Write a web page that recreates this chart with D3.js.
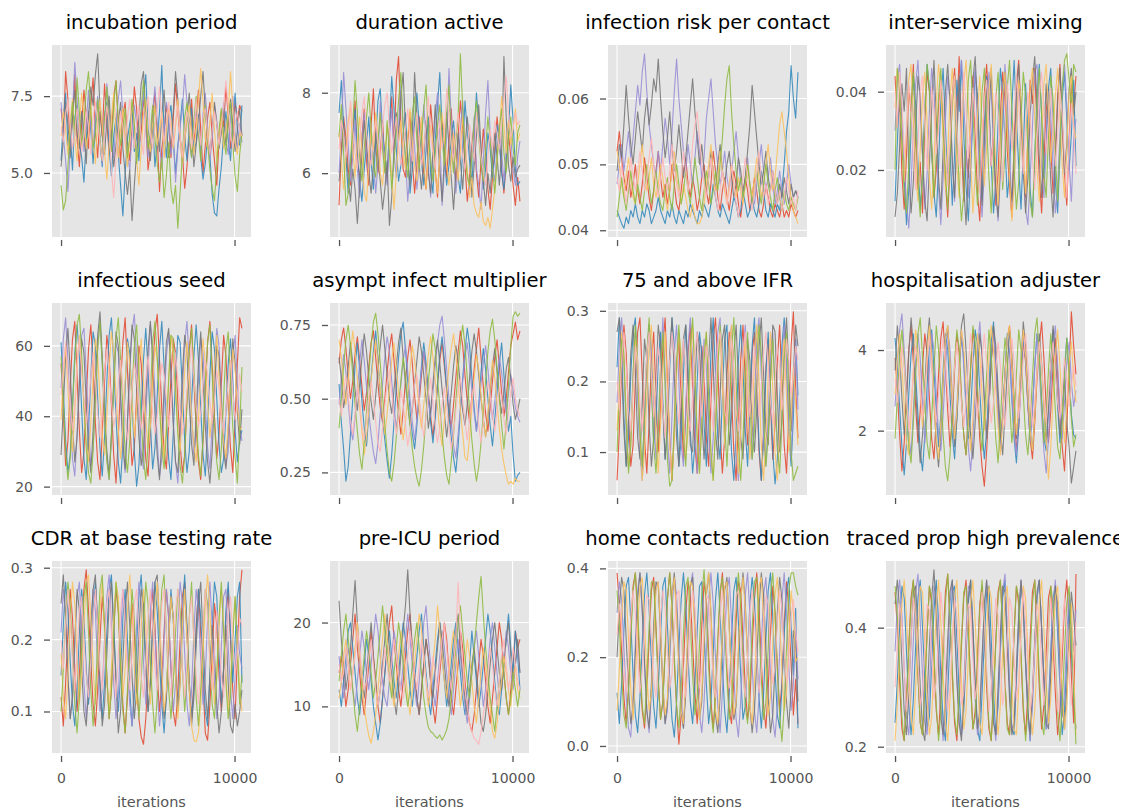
<!DOCTYPE html>
<html>
<head>
<meta charset="utf-8">
<script src="https://cdn.jsdelivr.net/npm/d3@7"></script>
<style>
  html, body { margin: 0; padding: 0; background: #ffffff; }
  svg { display: block; font-family: "DejaVu Sans", "Noto Sans", sans-serif; }
</style>
</head>
<body>
<svg id="chart" width="1131" height="812"></svg>
<script>
// MCMC trace plots: 7 chains per calibrated parameter, thinned samples.
const chainColors = ["#E24A33", "#348ABD", "#988ED5", "#777777", "#FBC15E", "#8EBA42", "#FFB5B8"];
const thin = 132; // iterations between stored samples
const xTickValues = [0, 10000];
const xTickLabels = ["0", "10000"];
const xLabel = "iterations";

const panelTitles = [
  "incubation period", "duration active", "infection risk per contact", "inter-service mixing",
  "infectious seed", "asympt infect multiplier", "75 and above IFR", "hospitalisation adjuster",
  "CDR at base testing rate", "pre-ICU period", "home contacts reduction", "traced prop high prevalence"
];

const yTickValues = [
  [5.0, 7.5], [6, 8], [0.04, 0.05, 0.06], [0.02, 0.04],
  [20, 40, 60], [0.25, 0.5, 0.75], [0.1, 0.2, 0.3], [2, 4],
  [0.1, 0.2, 0.3], [10, 20], [0.0, 0.2, 0.4], [0.2, 0.4]
];
const yTickLabels = [
  ["5.0", "7.5"], ["6", "8"], ["0.04", "0.05", "0.06"], ["0.02", "0.04"],
  ["20", "40", "60"], ["0.25", "0.50", "0.75"], ["0.1", "0.2", "0.3"], ["2", "4"],
  ["0.1", "0.2", "0.3"], ["10", "20"], ["0.0", "0.2", "0.4"], ["0.2", "0.4"]
];

// chain order: red, blue, purple, gray, yellow, green, pink
const incubationPeriod = [
  [7.1,6.3,8.3,7.4,5.9,6.8,8.2,6.1,5.2,6.6, 7.7,6.9,5.8,7.2,8.1,6.4,5.5,7.0,6.2,7.9, 6.7,5.6,6.1,7.5,8.0,6.6,5.3,6.9,7.3,6.0, 5.4,6.5,7.8,7.1,5.9,6.3,7.4,6.8,5.1,5.7, 6.9,7.6,6.2,4.4,5.8,6.4,7.2,6.6,5.5,6.8, 7.9,7.0,6.1,5.6,4.5,5.2,6.3,7.4,6.0,6.7, 7.7,6.4,5.0,5.9,6.8,7.3,6.2,5.4,4.6,6.1, 7.0,6.5,7.8,6.9,5.8,6.4,7.3,6.7,7.2,7.0],
  [5.4,6.7,7.6,5.9,6.3,5.1,6.8,7.2,6.0,5.5, 4.7,6.1,7.0,6.4,5.3,6.6,7.4,6.0,5.2,6.9, 7.3,5.8,4.9,6.2,6.8,5.6,4.6,3.6,5.0,6.1, 6.6,7.1,5.7,6.3,5.4,6.9,7.5,8.2,6.4,5.8, 6.7,5.2,6.0,7.0,8.5,6.3,5.5,6.8,7.2,6.1, 5.0,5.9,6.6,7.4,6.2,5.4,6.5,7.1,5.7,6.0, 6.9,5.5,4.8,5.3,6.2,5.6,4.3,3.7,3.6,4.5, 5.2,6.3,7.0,6.1,5.4,6.7,7.6,6.4,5.9,7.2],
  [7.3,6.2,5.4,4.4,5.8,6.9,8.6,7.4,6.3,7.0, 5.7,6.6,7.7,6.5,5.9,6.8,7.5,6.1,5.3,6.4, 7.9,7.1,6.0,5.5,6.7,7.4,8.0,6.9,6.2,5.6, 5.1,6.3,7.2,6.6,5.8,6.9,7.6,6.4,5.5,6.1, 7.0,7.8,6.7,5.9,5.2,6.4,7.3,6.8,5.6,6.2, 4.7,5.8,6.5,7.1,8.2,7.3,6.0,5.5,6.6,7.0, 6.3,5.7,6.9,7.6,6.5,5.4,6.1,7.2,6.7,5.9, 6.4,7.3,6.1,5.6,6.8,7.5,6.3,5.8,6.6,6.0],
  [5.2,6.1,7.3,6.6,5.5,6.8,7.7,6.3,5.8,7.0, 6.4,5.3,6.9,7.8,7.2,8.2,8.88,7.1,6.2,5.6, 6.7,7.5,6.1,5.2,5.9,6.6,7.3,5.8,5.0,4.3, 5.1,3.45,4.6,5.7,6.8,7.9,8.3,6.9,6.0,5.4, 6.5,7.2,6.3,5.7,6.9,7.7,6.4,5.5,6.1,7.0, 8.3,7.4,6.2,5.3,6.0,6.8,7.6,6.5,5.2,5.9, 6.6,7.5,8.3,7.0,6.1,5.6,6.4,7.3,6.6,5.8, 6.3,7.1,5.9,6.7,7.4,6.5,5.7,6.4,7.1,6.2],
  [6.2,7.0,6.4,5.6,6.6,7.4,6.1,5.4,6.5,7.6, 6.9,5.8,6.3,7.2,6.0,5.3,6.7,7.4,6.5,5.7, 4.8,5.9,6.8,7.6,6.3,5.5,6.4,7.1,6.0,5.2, 6.1,7.3,6.6,5.4,4.6,5.8,6.9,7.4,6.2,5.7, 6.6,7.2,5.9,6.4,7.0,5.5,6.3,7.1,6.7,5.8, 6.5,7.4,6.1,5.3,6.0,6.8,7.2,6.3,5.6,6.5, 7.4,8.4,7.3,6.1,5.8,6.7,7.6,6.4,5.4,6.2, 6.9,5.8,6.4,7.0,8.3,7.1,6.0,5.6,6.3,6.1],
  [4.6,3.8,4.1,5.2,6.4,7.3,6.2,8.1,7.0,5.9, 6.6,7.7,8.3,7.0,5.8,6.3,7.4,6.1,5.4,6.8, 7.8,6.5,5.7,7.2,8.0,6.7,5.9,6.4,7.1,5.5, 6.2,7.4,6.6,5.3,6.0,7.1,8.0,6.9,5.8,6.3, 7.2,6.1,5.3,4.7,5.5,4.2,4.9,6.0,4.5,4.0, 4.6,3.2,4.4,5.6,6.8,7.3,6.2,5.5,6.7,7.5, 6.3,5.4,6.6,7.2,6.0,5.1,4.5,4.1,5.3,6.4, 7.1,6.2,5.6,6.8,7.3,6.0,4.9,4.4,5.6,6.3],
  [6.5,6.0,6.9,7.4,6.6,5.8,6.3,7.1,6.4,5.7, 6.2,7.0,6.5,5.6,6.8,7.3,6.7,6.0,5.4,6.4, 7.2,6.6,5.1,4.2,5.5,6.3,7.0,6.5,5.9,6.8, 7.4,6.4,5.8,6.6,7.2,6.1,5.6,6.9,7.5,6.3, 5.8,6.5,7.1,7.8,6.7,6.0,6.6,7.3,6.4,5.9, 6.7,7.2,6.2,5.5,6.4,7.0,6.6,5.8,6.3,7.4, 6.5,5.9,6.8,7.1,6.2,5.6,6.4,7.0,6.6,5.9, 6.5,7.2,8.0,7.1,6.3,5.8,6.6,7.0,6.4,6.2]
];

const durationActive = [
  [5.2,6.6,7.4,6.9,6.1,5.7,7.0,7.8,6.4,5.8, 6.9,7.6,6.3,5.7,7.2,8.1,6.7,6.0,6.5,7.3, 6.2,5.8,7.1,7.9,6.6,8.3,8.9,7.2,6.1,5.9, 6.8,7.5,6.3,5.5,6.2,7.4,6.9,6.0,5.6,6.7, 7.7,7.0,6.1,5.4,6.5,7.3,6.6,5.9,6.8,7.6, 6.4,5.8,6.9,7.8,7.1,6.2,5.3,5.9,6.7,7.2, 6.0,5.4,6.3,7.1,6.5,5.6,5.1,5.9,6.6,7.4, 6.8,6.1,5.5,6.3,7.0,6.4,5.7,5.2,5.9,5.3],
  [7.5,8.3,7.2,6.4,5.5,6.2,6.9,7.6,6.5,5.8, 5.3,6.1,6.7,7.4,6.3,5.6,6.8,7.8,8.1,7.0, 6.5,5.9,7.1,8.4,7.6,6.6,5.8,6.2,7.0,7.5, 6.4,5.5,6.1,7.3,8.0,7.2,6.3,5.7,6.6,7.4, 6.0,5.5,6.8,7.7,8.5,7.1,6.4,5.7,6.2,6.9, 7.3,6.5,5.9,5.5,6.6,7.8,7.0,6.3,5.7,6.8, 8.0,7.2,6.4,5.6,6.1,7.0,6.6,5.9,6.4,7.2, 6.8,6.0,5.6,6.3,7.0,8.2,7.3,6.1,5.7,5.8],
  [6.0,7.1,8.5,7.6,6.7,5.8,6.4,7.3,6.1,5.4, 6.8,7.5,6.6,5.9,7.0,6.4,5.5,6.2,7.8,7.0, 6.1,5.7,6.9,7.6,6.5,5.9,7.2,8.2,7.1,6.4, 5.3,6.0,7.3,6.7,5.6,6.3,6.8,7.7,6.9,6.2, 5.4,6.5,7.4,8.0,7.0,5.2,6.1,6.9,8.6,7.3, 6.4,5.5,6.2,7.1,7.8,6.7,6.0,5.6,6.5,7.4, 6.1,5.7,5.1,6.3,7.5,8.3,7.0,6.2,5.8,6.6, 7.2,6.5,5.8,6.6,7.3,6.9,6.1,5.7,6.4,6.8],
  [5.8,6.4,7.2,6.6,5.9,5.3,6.1,5.6,4.75,5.7, 6.5,7.3,6.8,6.0,5.5,6.2,7.0,6.4,5.8,5.1, 5.6,6.3,4.7,5.4,6.6,7.5,6.8,7.9,8.5,7.1, 6.3,5.7,6.9,8.5,7.4,6.2,5.6,6.4,7.3,6.0, 5.5,6.6,7.7,6.9,6.1,5.3,6.4,7.5,6.7,5.9, 5.1,6.0,7.0,6.3,5.6,6.6,7.4,6.8,5.4,6.2, 6.9,7.7,6.6,5.8,5.2,6.0,5.5,6.3,7.0,6.4, 5.7,6.5,8.9,7.4,6.2,5.8,6.4,5.9,6.1,6.2],
  [7.0,6.3,5.6,6.4,7.3,7.7,6.6,5.9,6.8,7.4, 6.5,5.5,5.3,6.2,7.1,6.6,7.5,6.9,6.0,5.7, 6.4,7.2,6.7,5.9,5.1,6.0,6.8,7.3,6.5,6.1, 6.9,7.6,6.8,6.2,5.8,6.6,7.4,6.3,5.6,6.5, 7.2,6.7,6.0,5.5,6.4,7.5,6.9,6.2,5.7,6.3, 7.0,6.4,5.8,6.6,7.4,6.8,6.1,5.4,5.9,5.2, 5.0,4.9,5.3,4.8,4.7,4.9,4.63,5.1,5.6,6.4, 7.0,7.9,7.2,6.5,7.3,6.7,7.1,7.6,6.8,7.0],
  [6.9,7.7,6.5,5.2,5.5,6.3,7.2,8.3,7.5,6.4, 5.8,6.6,7.4,8.0,7.1,6.2,5.9,6.8,7.5,6.6, 6.0,7.3,6.5,5.6,6.3,7.0,7.8,8.5,7.2,6.4, 5.9,6.7,7.5,7.9,6.8,6.1,6.9,7.6,8.2,7.0, 6.3,5.8,6.5,7.2,7.7,6.9,6.2,7.5,8.2,6.7, 6.0,6.8,7.4,8.97,7.6,6.5,5.9,5.7,6.4,7.3, 7.8,6.9,6.2,5.8,6.6,7.4,6.8,6.1,5.5,6.3, 7.1,7.6,6.5,6.0,6.9,7.4,6.6,6.2,7.0,7.2],
  [6.6,7.3,7.0,6.4,6.9,7.8,7.1,6.5,6.1,6.8, 7.5,7.9,7.0,6.4,6.2,6.9,7.3,6.8,6.3,7.2, 7.7,8.0,7.1,6.5,6.9,7.4,6.7,6.2,6.6,7.1, 7.6,6.9,6.3,7.0,7.5,6.8,6.2,6.6,7.2,7.9, 6.9,6.5,6.1,6.8,7.3,6.6,7.0,8.1,7.4,6.7, 6.3,7.0,7.5,6.9,6.4,6.1,6.7,7.2,6.8,6.3, 7.5,6.9,6.4,6.0,5.7,6.4,7.1,6.6,7.3,7.0, 6.6,7.2,7.8,8.4,7.5,6.9,7.1,7.5,7.2,7.3]
];

const infectionRiskPerContact = [
  [0.052,0.055,0.051,0.048,0.046,0.049,0.045,0.047,0.050,0.046, 0.044,0.047,0.051,0.048,0.045,0.043,0.046,0.049,0.052,0.048, 0.045,0.047,0.044,0.046,0.050,0.047,0.044,0.043,0.046,0.049, 0.051,0.047,0.045,0.048,0.046,0.043,0.045,0.048,0.050,0.046, 0.044,0.047,0.052,0.049,0.045,0.043,0.046,0.048,0.045,0.043, 0.046,0.049,0.047,0.044,0.042,0.045,0.048,0.046,0.043,0.045, 0.048,0.046,0.043,0.042,0.044,0.047,0.045,0.043,0.042,0.044, 0.043,0.042,0.044,0.042,0.043,0.042,0.044,0.043,0.042,0.043],
  [0.043,0.042,0.041,0.0403,0.042,0.041,0.043,0.042,0.044,0.042, 0.041,0.043,0.042,0.044,0.043,0.041,0.042,0.043,0.045,0.043, 0.042,0.041,0.043,0.042,0.044,0.042,0.041,0.043,0.042,0.041, 0.043,0.042,0.044,0.043,0.042,0.041,0.043,0.042,0.044,0.043, 0.042,0.044,0.047,0.045,0.043,0.042,0.044,0.043,0.042,0.041, 0.043,0.045,0.044,0.042,0.043,0.046,0.044,0.042,0.043,0.045, 0.043,0.042,0.044,0.049,0.046,0.043,0.042,0.044,0.043,0.042, 0.044,0.043,0.046,0.050,0.055,0.058,0.065,0.060,0.057,0.064],
  [0.047,0.050,0.053,0.049,0.052,0.055,0.051,0.054,0.058,0.062, 0.059,0.064,0.0668,0.061,0.056,0.053,0.050,0.048,0.052,0.049, 0.053,0.057,0.054,0.050,0.055,0.061,0.066,0.060,0.056,0.052, 0.049,0.053,0.050,0.047,0.051,0.055,0.052,0.048,0.051,0.057, 0.060,0.063,0.058,0.053,0.050,0.047,0.049,0.052,0.048,0.046, 0.049,0.052,0.055,0.051,0.047,0.045,0.048,0.051,0.047,0.045, 0.044,0.047,0.050,0.053,0.049,0.046,0.048,0.051,0.047,0.044, 0.046,0.049,0.046,0.044,0.047,0.050,0.047,0.045,0.046,0.045],
  [0.049,0.053,0.051,0.056,0.062,0.057,0.053,0.050,0.054,0.058, 0.055,0.052,0.057,0.060,0.056,0.059,0.063,0.061,0.066,0.060, 0.055,0.051,0.054,0.058,0.053,0.049,0.052,0.056,0.052,0.048, 0.051,0.055,0.059,0.063,0.058,0.054,0.050,0.053,0.049,0.046, 0.048,0.052,0.049,0.046,0.050,0.053,0.049,0.047,0.050,0.052, 0.048,0.045,0.047,0.051,0.049,0.046,0.048,0.052,0.056,0.062, 0.058,0.054,0.050,0.047,0.049,0.052,0.048,0.046,0.049,0.046, 0.044,0.047,0.045,0.048,0.046,0.044,0.047,0.045,0.046,0.045],
  [0.052,0.050,0.047,0.045,0.048,0.051,0.048,0.045,0.044,0.047, 0.050,0.053,0.049,0.046,0.048,0.051,0.047,0.045,0.047,0.050, 0.048,0.045,0.043,0.046,0.049,0.052,0.048,0.046,0.044,0.047, 0.045,0.043,0.042,0.044,0.042,0.041,0.041,0.042,0.044,0.047, 0.050,0.053,0.049,0.046,0.048,0.052,0.049,0.046,0.044,0.047, 0.050,0.047,0.045,0.048,0.046,0.044,0.047,0.050,0.047,0.045, 0.048,0.051,0.048,0.045,0.047,0.050,0.053,0.049,0.046,0.048, 0.052,0.056,0.058,0.055,0.052,0.048,0.045,0.043,0.042,0.041],
  [0.042,0.045,0.048,0.045,0.043,0.046,0.049,0.046,0.044,0.047, 0.045,0.043,0.046,0.050,0.047,0.044,0.046,0.049,0.046,0.044, 0.043,0.046,0.048,0.045,0.043,0.047,0.050,0.047,0.044,0.046, 0.049,0.046,0.044,0.047,0.051,0.048,0.045,0.043,0.046,0.049, 0.047,0.044,0.046,0.049,0.046,0.050,0.054,0.059,0.063,0.065, 0.058,0.053,0.049,0.046,0.048,0.045,0.047,0.050,0.047,0.044, 0.046,0.049,0.046,0.044,0.047,0.050,0.047,0.045,0.043,0.046, 0.048,0.045,0.043,0.046,0.044,0.043,0.045,0.044,0.043,0.045],
  [0.048,0.046,0.050,0.047,0.044,0.047,0.051,0.048,0.046,0.049, 0.052,0.049,0.046,0.048,0.051,0.054,0.050,0.047,0.045,0.048, 0.051,0.048,0.046,0.049,0.053,0.050,0.047,0.045,0.048,0.052, 0.049,0.046,0.048,0.053,0.056,0.058,0.054,0.050,0.047,0.045, 0.048,0.051,0.048,0.045,0.043,0.046,0.049,0.047,0.044,0.046, 0.050,0.047,0.044,0.042,0.045,0.048,0.051,0.048,0.045,0.043, 0.046,0.049,0.052,0.048,0.045,0.047,0.044,0.046,0.049,0.046, 0.044,0.046,0.043,0.045,0.048,0.046,0.044,0.045,0.043,0.046]
];

const interServiceMixing = [
  [0.044,0.031,0.038,0.019,0.010,0.024,0.041,0.035,0.047,0.028, 0.015,0.022,0.009,0.033,0.045,0.040,0.026,0.013,0.020,0.036, 0.043,0.030,0.017,0.008,0.021,0.039,0.046,0.034,0.049,0.027, 0.012,0.025,0.018,0.032,0.044,0.029,0.014,0.007,0.023,0.040, 0.047,0.036,0.021,0.030,0.011,0.019,0.034,0.045,0.038,0.025, 0.016,0.008,0.027,0.042,0.048,0.033,0.020,0.013,0.028,0.043, 0.037,0.046,0.031,0.018,0.009,0.022,0.035,0.041,0.026,0.014, 0.024,0.039,0.047,0.032,0.019,0.011,0.026,0.042,0.036,0.044],
  [0.012,0.027,0.040,0.033,0.018,0.006,0.015,0.030,0.044,0.037, 0.022,0.010,0.019,0.036,0.047,0.041,0.025,0.014,0.008,0.021, 0.038,0.046,0.031,0.017,0.026,0.011,0.024,0.043,0.035,0.048, 0.029,0.016,0.007,0.020,0.034,0.045,0.039,0.023,0.012,0.031, 0.044,0.037,0.022,0.009,0.017,0.032,0.046,0.040,0.027,0.013, 0.019,0.036,0.048,0.033,0.021,0.010,0.025,0.042,0.030,0.015, 0.008,0.023,0.039,0.047,0.034,0.018,0.028,0.041,0.046,0.031, 0.017,0.009,0.024,0.038,0.045,0.033,0.020,0.029,0.043,0.021],
  [0.030,0.043,0.047,0.034,0.021,0.012,0.0051,0.016,0.031,0.042, 0.048,0.036,0.024,0.010,0.019,0.035,0.046,0.040,0.027,0.015, 0.006,0.018,0.033,0.044,0.038,0.023,0.012,0.029,0.042,0.048, 0.037,0.025,0.013,0.021,0.036,0.046,0.031,0.017,0.008,0.020, 0.034,0.045,0.040,0.026,0.014,0.007,0.019,0.032,0.047,0.038, 0.024,0.011,0.017,0.030,0.043,0.036,0.022,0.010,0.006,0.018, 0.031,0.045,0.047,0.035,0.021,0.013,0.026,0.040,0.034,0.020, 0.009,0.016,0.029,0.041,0.047,0.036,0.022,0.012,0.028,0.033],
  [0.008,0.014,0.026,0.042,0.035,0.046,0.020,0.009,0.017,0.031, 0.044,0.039,0.024,0.012,0.007,0.021,0.036,0.048,0.033,0.018, 0.010,0.025,0.040,0.047,0.037,0.022,0.013,0.028,0.044,0.030, 0.016,0.006,0.019,0.034,0.043,0.049,0.036,0.023,0.011,0.027, 0.041,0.033,0.046,0.029,0.015,0.008,0.022,0.038,0.045,0.032, 0.019,0.012,0.024,0.039,0.047,0.035,0.021,0.009,0.018,0.034, 0.043,0.049,0.037,0.023,0.013,0.028,0.042,0.031,0.017,0.008, 0.022,0.037,0.046,0.033,0.019,0.027,0.041,0.046,0.034,0.040],
  [0.036,0.046,0.040,0.027,0.017,0.030,0.043,0.047,0.033,0.020, 0.012,0.025,0.039,0.045,0.032,0.018,0.010,0.022,0.037,0.047, 0.041,0.028,0.015,0.024,0.038,0.046,0.035,0.021,0.013,0.027, 0.042,0.048,0.036,0.023,0.009,0.019,0.034,0.044,0.030,0.016, 0.026,0.040,0.047,0.034,0.021,0.011,0.025,0.039,0.045,0.031, 0.018,0.007,0.016,0.030,0.043,0.038,0.024,0.014,0.029,0.041, 0.046,0.033,0.020,0.012,0.027,0.042,0.047,0.035,0.022,0.030, 0.039,0.046,0.034,0.021,0.013,0.025,0.040,0.044,0.031,0.028],
  [0.020,0.046,0.040,0.027,0.014,0.009,0.021,0.036,0.045,0.032, 0.017,0.008,0.019,0.034,0.047,0.041,0.026,0.013,0.024,0.039, 0.046,0.033,0.019,0.010,0.023,0.037,0.044,0.030,0.016,0.007, 0.014,0.029,0.043,0.048,0.035,0.021,0.011,0.025,0.040,0.046, 0.032,0.018,0.009,0.022,0.038,0.045,0.031,0.015,0.024,0.041, 0.048,0.036,0.020,0.010,0.017,0.033,0.045,0.039,0.025,0.012, 0.008,0.023,0.037,0.046,0.034,0.019,0.013,0.029,0.044,0.038, 0.024,0.012,0.026,0.041,0.048,0.0497,0.043,0.036,0.047,0.045],
  [0.040,0.031,0.045,0.037,0.024,0.030,0.042,0.036,0.023,0.015, 0.027,0.040,0.044,0.032,0.020,0.029,0.041,0.035,0.024,0.031, 0.043,0.037,0.026,0.016,0.028,0.039,0.044,0.031,0.021,0.034, 0.045,0.036,0.023,0.030,0.041,0.033,0.022,0.014,0.027,0.038, 0.043,0.032,0.021,0.029,0.040,0.035,0.024,0.017,0.030,0.042, 0.036,0.025,0.033,0.044,0.038,0.027,0.019,0.031,0.040,0.034, 0.023,0.015,0.028,0.039,0.045,0.035,0.024,0.032,0.041,0.030, 0.021,0.029,0.040,0.034,0.023,0.013,0.026,0.037,0.031,0.019]
];

const infectiousSeed = [
  [55,41,26,33,48,62,67,51,36,24, 30,45,59,66,54,38,27,22,35,50, 63,57,43,29,21,34,49,61,68,53, 39,26,31,46,60,55,41,28,23,36, 52,64,69,56,42,30,25,38,51,62, 58,44,32,24,29,45,59,66,50,37, 27,22,33,47,61,67,54,40,28,35, 49,63,57,43,31,24,39,55,68,65],
  [61,47,33,24,29,43,58,66,57,42, 28,22,36,51,64,60,45,31,23,34, 50,63,68,55,40,27,21,32,48,62, 58,44,30,20.1,26,41,56,65,53,38, 25,31,46,59,67,54,39,28,22,35, 51,63,61,47,33,24,30,44,57,66, 56,42,29,23,37,52,64,59,45,32, 24,28,41,55,62,50,36,27,33,36],
  [48,62,68,56,41,28,23,35,50,63, 65,52,38,26,31,45,60,67,55,40, 29,22,34,48,61,58,44,31,24,37, 53,64,69,57,42,30,25,39,54,66, 60,46,33,23,28,43,57,64,52,38, 27,21,32,47,61,67,55,41,29,36, 50,62,58,44,31,25,38,53,65,60, 46,34,26,30,44,57,63,49,37,33],
  [29,43,57,65,53,38,27,34,49,62, 58,44,31,24,36,51,63,69.7,57,42, 30,23,35,50,64,60,46,33,25,39, 54,66,62,48,34,26,31,45,59,67, 56,41,29,22,33,48,61,65,52,38, 27,24,37,52,63,58,44,32,26,40, 55,64,51,37,27,21,30,46,60,57, 43,30,25,36,50,62,55,41,32,42],
  [39,52,60,48,36,30,41,55,63,54, 43,33,27,38,51,62,57,45,35,29, 40,53,64,58,46,36,28,37,50,61, 55,44,34,42,54,62,50,39,31,37, 49,60,56,45,35,28,38,51,63,57, 46,36,30,41,53,61,52,40,32,27, 39,52,62,55,44,34,41,54,63,51, 42,33,28,38,50,59,53,43,36,37],
  [57,44,30,22,28,42,56,66,69,58, 43,31,24,21,30,45,59,67,55,40, 27,22,34,48,62,68,56,42,30,24, 33,47,60,66,53,39,28,22,32,46, 61,67,57,43,31,25,35,50,63,62, 48,35,26,21,29,44,58,65,54,40, 29,23,34,49,61,66,52,38,27,22, 31,45,59,64,50,37,28,21,36,54],
  [46,54,61,52,43,36,44,55,62,53, 45,38,43,51,58,50,41,34,42,53, 59,52,44,37,41,49,56,48,40,33, 39,48,55,51,43,36,42,50,57,49, 41,35,40,48,55,52,44,37,43,51, 58,50,42,35,39,47,54,60,51,43, 37,41,49,56,52,44,38,45,53,48, 40,35,42,50,56,47,39,44,52,47]
];

const asymptInfectMultiplier = [
  [0.62,0.70,0.74,0.67,0.58,0.50,0.56,0.65,0.71,0.63, 0.54,0.46,0.52,0.61,0.69,0.73,0.64,0.55,0.47,0.42, 0.50,0.59,0.67,0.72,0.63,0.53,0.45,0.38,0.46,0.56, 0.64,0.70,0.62,0.51,0.43,0.49,0.58,0.66,0.60,0.52, 0.44,0.37,0.45,0.55,0.63,0.69,0.61,0.53,0.46,0.40, 0.48,0.57,0.66,0.73,0.68,0.58,0.49,0.42,0.51,0.60, 0.67,0.74,0.64,0.54,0.45,0.39,0.47,0.56,0.64,0.70, 0.61,0.52,0.44,0.50,0.59,0.68,0.72,0.76,0.70,0.73],
  [0.55,0.42,0.33,0.22,0.27,0.38,0.50,0.61,0.69,0.60, 0.49,0.40,0.34,0.45,0.57,0.66,0.73,0.63,0.52,0.43, 0.36,0.29,0.23,0.31,0.42,0.54,0.64,0.72,0.76,0.67, 0.56,0.46,0.38,0.33,0.41,0.52,0.61,0.69,0.62,0.51, 0.42,0.35,0.43,0.55,0.65,0.71,0.63,0.53,0.44,0.37, 0.30,0.25,0.34,0.46,0.57,0.66,0.74,0.68,0.57,0.47, 0.39,0.48,0.59,0.67,0.60,0.50,0.41,0.34,0.43,0.52, 0.62,0.69,0.58,0.47,0.39,0.44,0.31,0.22,0.24,0.25],
  [0.48,0.57,0.65,0.59,0.49,0.40,0.36,0.44,0.53,0.62, 0.70,0.63,0.54,0.45,0.38,0.32,0.28,0.35,0.45,0.55, 0.64,0.71,0.66,0.56,0.47,0.40,0.46,0.55,0.63,0.68, 0.59,0.50,0.42,0.36,0.43,0.52,0.60,0.66,0.58,0.49, 0.44,0.52,0.61,0.69,0.75,0.78,0.70,0.60,0.50,0.42, 0.34,0.30,0.38,0.47,0.56,0.64,0.69,0.61,0.53,0.45, 0.39,0.46,0.55,0.62,0.68,0.60,0.51,0.43,0.49,0.57, 0.64,0.59,0.51,0.45,0.52,0.58,0.53,0.47,0.44,0.42],
  [0.64,0.57,0.47,0.52,0.61,0.69,0.62,0.53,0.46,0.55, 0.64,0.72,0.66,0.57,0.49,0.43,0.51,0.60,0.68,0.75, 0.67,0.58,0.50,0.45,0.53,0.61,0.69,0.74,0.64,0.55, 0.48,0.41,0.46,0.55,0.63,0.71,0.66,0.58,0.50,0.40, 0.46,0.55,0.64,0.70,0.62,0.53,0.45,0.37,0.44,0.52, 0.61,0.68,0.63,0.54,0.46,0.41,0.48,0.57,0.66,0.72, 0.66,0.58,0.50,0.43,0.37,0.44,0.53,0.61,0.67,0.59, 0.51,0.45,0.52,0.60,0.64,0.57,0.48,0.43,0.46,0.50],
  [0.70,0.64,0.55,0.48,0.56,0.65,0.73,0.66,0.57,0.47, 0.39,0.31,0.37,0.46,0.56,0.64,0.70,0.62,0.53,0.44, 0.38,0.45,0.54,0.63,0.69,0.61,0.52,0.43,0.36,0.42, 0.51,0.60,0.68,0.63,0.55,0.46,0.40,0.48,0.57,0.65, 0.71,0.64,0.56,0.47,0.39,0.34,0.43,0.52,0.61,0.67, 0.72,0.65,0.56,0.46,0.38,0.30,0.29,0.37,0.47,0.57, 0.65,0.60,0.51,0.43,0.37,0.45,0.54,0.63,0.57,0.48, 0.40,0.33,0.28,0.24,0.21,0.22,0.21,0.23,0.22,0.22],
  [0.40,0.50,0.61,0.70,0.75,0.68,0.58,0.48,0.39,0.31, 0.26,0.35,0.46,0.58,0.68,0.76,0.79,0.72,0.62,0.51, 0.41,0.32,0.25,0.22,0.28,0.37,0.47,0.56,0.64,0.58, 0.49,0.41,0.33,0.27,0.23,0.203,0.26,0.34,0.45,0.56, 0.64,0.72,0.67,0.57,0.47,0.38,0.30,0.24,0.21,0.29, 0.38,0.49,0.60,0.69,0.75,0.68,0.57,0.46,0.36,0.28, 0.22,0.27,0.35,0.45,0.56,0.66,0.73,0.77,0.70,0.60, 0.50,0.41,0.33,0.42,0.55,0.68,0.78,0.795,0.78,0.79],
  [0.50,0.44,0.52,0.58,0.51,0.43,0.38,0.45,0.54,0.49, 0.41,0.36,0.43,0.51,0.56,0.50,0.42,0.35,0.32,0.40, 0.48,0.55,0.60,0.52,0.44,0.38,0.45,0.53,0.48,0.41, 0.34,0.39,0.47,0.55,0.58,0.50,0.43,0.37,0.44,0.52, 0.57,0.49,0.41,0.35,0.40,0.48,0.54,0.47,0.40,0.33, 0.38,0.46,0.53,0.57,0.49,0.42,0.36,0.43,0.50,0.55, 0.48,0.41,0.35,0.42,0.50,0.56,0.51,0.44,0.39,0.46, 0.54,0.50,0.43,0.38,0.45,0.52,0.57,0.50,0.46,0.44]
];

const ifr75Plus = [
  [0.06,0.13,0.22,0.28,0.24,0.15,0.08,0.11,0.20,0.27, 0.29,0.21,0.12,0.07,0.14,0.23,0.27,0.18,0.10,0.16, 0.25,0.29,0.20,0.12,0.06,0.13,0.22,0.26,0.17,0.09, 0.15,0.24,0.28,0.19,0.11,0.07,0.16,0.25,0.21,0.12, 0.08,0.17,0.26,0.29,0.22,0.13,0.07,0.12,0.21,0.27, 0.18,0.10,0.06,0.14,0.23,0.28,0.20,0.11,0.15,0.24, 0.27,0.19,0.10,0.06,0.13,0.22,0.26,0.17,0.09,0.14, 0.23,0.28,0.20,0.11,0.07,0.15,0.25,0.2987,0.19,0.12],
  [0.22,0.29,0.24,0.15,0.08,0.12,0.21,0.27,0.29,0.19, 0.10,0.07,0.15,0.24,0.28,0.20,0.11,0.14,0.23,0.27, 0.17,0.09,0.13,0.22,0.29,0.25,0.16,0.08,0.12,0.21, 0.28,0.22,0.13,0.07,0.11,0.20,0.27,0.24,0.14,0.08, 0.15,0.24,0.29,0.21,0.12,0.09,0.18,0.26,0.28,0.18, 0.10,0.06,0.13,0.23,0.28,0.22,0.13,0.08,0.16,0.25, 0.29,0.20,0.11,0.06,0.12,0.21,0.27,0.19,0.10,0.055, 0.09,0.17,0.25,0.29,0.22,0.13,0.08,0.15,0.26,0.18],
  [0.17,0.25,0.29,0.22,0.13,0.08,0.12,0.21,0.27,0.19, 0.10,0.06,0.14,0.23,0.28,0.25,0.16,0.09,0.13,0.22, 0.29,0.21,0.12,0.07,0.15,0.24,0.28,0.20,0.11,0.08, 0.16,0.25,0.29,0.23,0.14,0.07,0.10,0.19,0.26,0.22, 0.13,0.07,0.12,0.21,0.27,0.29,0.20,0.11,0.16,0.25, 0.28,0.19,0.10,0.06,0.14,0.24,0.28,0.21,0.12,0.09, 0.17,0.26,0.29,0.21,0.12,0.08,0.15,0.24,0.27,0.18, 0.10,0.14,0.23,0.28,0.22,0.13,0.09,0.18,0.26,0.16],
  [0.27,0.29,0.22,0.13,0.08,0.15,0.24,0.28,0.21,0.12, 0.09,0.17,0.26,0.23,0.14,0.08,0.12,0.20,0.28,0.25, 0.16,0.09,0.14,0.24,0.29,0.21,0.12,0.08,0.17,0.26, 0.28,0.20,0.11,0.10,0.19,0.27,0.25,0.15,0.09,0.14, 0.23,0.29,0.22,0.13,0.09,0.18,0.26,0.28,0.19,0.11, 0.15,0.24,0.28,0.20,0.12,0.09,0.17,0.26,0.23,0.14, 0.10,0.16,0.25,0.29,0.21,0.13,0.11,0.20,0.28,0.27, 0.18,0.10,0.15,0.24,0.29,0.22,0.13,0.21,0.28,0.25],
  [0.13,0.20,0.27,0.23,0.15,0.08,0.11,0.19,0.26,0.21, 0.12,0.06,0.10,0.18,0.25,0.28,0.20,0.12,0.07,0.14, 0.22,0.27,0.19,0.11,0.06,0.12,0.21,0.27,0.24,0.15, 0.09,0.13,0.22,0.28,0.21,0.12,0.07,0.15,0.24,0.27, 0.18,0.10,0.06,0.14,0.22,0.27,0.19,0.11,0.16,0.25, 0.28,0.21,0.12,0.07,0.13,0.22,0.26,0.17,0.09,0.14, 0.23,0.28,0.20,0.11,0.06,0.12,0.21,0.27,0.19,0.10, 0.06,0.13,0.22,0.26,0.18,0.10,0.15,0.22,0.17,0.11],
  [0.10,0.18,0.26,0.24,0.14,0.07,0.11,0.21,0.28,0.23, 0.13,0.08,0.15,0.24,0.29,0.20,0.11,0.07,0.13,0.22, 0.27,0.19,0.09,0.0516,0.06,0.14,0.23,0.28,0.22,0.12, 0.08,0.16,0.25,0.29,0.21,0.12,0.07,0.14,0.23,0.27, 0.18,0.10,0.06,0.13,0.22,0.28,0.23,0.14,0.08,0.15, 0.24,0.29,0.20,0.11,0.06,0.12,0.21,0.27,0.18,0.09, 0.13,0.22,0.28,0.24,0.15,0.08,0.12,0.20,0.26,0.19, 0.11,0.07,0.14,0.23,0.27,0.18,0.10,0.06,0.07,0.08],
  [0.20,0.16,0.23,0.27,0.22,0.16,0.13,0.19,0.25,0.23, 0.17,0.13,0.18,0.24,0.27,0.21,0.15,0.19,0.25,0.22, 0.16,0.12,0.17,0.23,0.27,0.24,0.18,0.14,0.19,0.26, 0.22,0.16,0.13,0.18,0.24,0.27,0.21,0.15,0.20,0.25, 0.23,0.17,0.13,0.19,0.25,0.27,0.22,0.16,0.14,0.20, 0.26,0.22,0.16,0.13,0.18,0.24,0.27,0.21,0.15,0.19, 0.25,0.21,0.15,0.19,0.24,0.27,0.22,0.17,0.14,0.20, 0.25,0.22,0.16,0.20,0.26,0.23,0.18,0.21,0.25,0.23]
];

const hospitalisationAdjuster = [
  [3.8,3.0,1.9,1.0,1.7,2.9,4.0,4.6,3.7,2.6, 1.7,2.5,3.6,4.4,3.9,2.8,1.8,1.3,2.3,3.4, 4.3,4.7,3.6,2.5,1.6,2.3,3.5,4.4,3.9,2.8, 1.9,1.4,2.4,3.5,4.5,4.0,2.9,1.8,1.1,0.62, 1.5,2.6,3.7,4.5,3.8,2.7,1.7,2.4,3.4,4.3, 4.6,3.6,2.5,1.5,2.1,3.2,4.2,3.7,2.6,1.8, 1.3,2.2,3.3,4.1,4.7,3.8,2.6,1.7,2.5,3.6, 4.3,3.4,2.4,1.6,1.0,2.1,3.5,4.95,4.1,3.4],
  [4.3,3.6,2.6,1.6,0.9,1.7,2.9,3.9,4.4,3.4, 2.4,1.5,1.0,1.9,3.1,4.1,4.5,3.5,2.5,1.6, 2.4,3.5,4.4,4.0,2.9,1.9,1.3,2.3,3.5,4.3, 3.8,2.7,1.8,2.4,3.6,4.5,4.1,3.0,2.0,1.3, 2.0,3.1,4.2,4.7,3.6,2.5,1.6,2.3,3.4,4.4, 3.9,2.8,1.8,1.2,2.1,3.3,4.3,3.8,2.7,1.8, 2.5,3.6,4.4,3.9,2.8,1.8,1.5,2.6,3.7,4.5, 3.7,2.6,1.7,2.4,3.5,4.3,3.4,2.4,1.9,1.8],
  [2.6,3.6,4.5,4.9,4.0,2.9,1.9,1.4,2.5,3.6, 4.4,3.8,2.7,1.7,2.4,3.5,4.4,4.0,2.9,1.9, 1.5,2.4,3.5,4.5,4.0,2.9,1.9,2.6,3.7,4.5, 3.6,2.5,1.6,1.0,1.8,3.0,4.0,4.7,3.8,2.7, 1.8,2.7,3.8,4.5,3.5,2.4,1.5,2.3,3.4,4.3, 3.9,2.9,1.9,1.4,2.4,3.5,4.4,3.8,2.7,1.7, 2.5,3.6,4.4,3.5,2.4,1.5,0.95,1.8,3.0,4.1, 4.6,3.6,2.5,1.8,2.7,3.7,4.2,3.2,2.6,3.0],
  [3.5,4.6,3.9,2.8,1.9,2.7,3.9,4.8,4.1,3.0, 2.0,1.2,1.9,3.1,4.2,4.8,3.8,2.7,1.7,1.1, 2.0,3.2,4.3,4.6,3.6,2.5,1.6,2.3,3.5,4.6, 4.9,4.0,2.9,1.9,1.3,2.2,3.4,4.4,3.9,2.8, 1.8,2.6,3.7,4.6,4.1,3.0,2.0,1.4,2.4,3.5, 4.5,3.9,2.8,1.8,2.6,3.7,4.7,4.1,3.0,2.0, 1.5,2.4,3.5,4.4,3.7,2.6,1.7,2.5,3.6,4.6, 3.9,2.8,1.9,2.4,3.3,2.2,1.6,0.7,1.1,1.5],
  [2.9,3.8,4.4,3.6,2.6,1.7,1.4,2.4,3.5,4.5, 4.0,3.0,2.1,2.8,3.9,4.6,3.8,2.7,1.8,1.3, 2.2,3.3,4.3,4.6,3.7,2.7,1.8,2.5,3.6,4.5, 4.1,3.1,2.2,1.5,2.3,3.4,4.4,3.9,2.9,2.0, 2.7,3.8,4.6,4.0,3.0,2.1,1.4,2.2,3.3,4.3, 4.6,3.7,2.7,1.9,2.6,3.7,4.5,3.9,2.9,2.0, 1.5,2.3,3.4,4.2,3.6,2.6,1.8,0.8,1.6,2.8, 3.8,4.5,3.6,2.5,1.7,2.6,3.7,4.2,3.3,2.7],
  [1.8,2.8,3.9,4.5,3.7,2.6,1.6,1.2,2.2,3.4, 4.4,4.8,3.8,2.7,1.7,1.3,2.3,3.5,4.6,4.0, 2.9,1.9,1.1,0.75,1.4,2.5,3.7,4.5,4.0,2.9, 1.9,1.4,2.4,3.6,4.6,4.2,3.1,2.1,1.5,2.3, 3.4,4.5,3.9,2.8,1.8,1.2,2.2,3.4,4.3,3.8, 2.7,1.7,2.3,3.4,4.5,4.0,2.9,1.9,1.4,2.2, 3.3,4.4,4.8,3.8,2.7,1.7,2.4,3.5,4.4,3.6, 2.5,1.6,1.3,2.2,3.3,4.3,3.4,2.3,1.6,1.9],
  [3.3,2.7,3.4,4.1,3.6,2.8,2.0,2.6,3.5,4.1, 3.7,3.0,2.3,2.9,3.7,4.3,3.6,2.8,2.2,2.9, 3.7,4.3,3.7,2.9,2.2,2.8,3.6,4.2,3.5,2.7, 2.1,2.7,3.6,4.4,3.8,3.0,2.3,2.9,3.8,4.4, 3.7,2.9,2.2,2.7,3.5,4.2,3.6,2.8,2.1,2.8, 3.6,4.3,3.7,2.9,2.3,3.0,3.8,4.4,3.6,2.8, 2.1,2.7,3.5,4.2,3.6,2.8,2.2,2.9,3.7,4.2, 3.5,2.7,2.3,3.0,3.8,3.3,2.6,3.1,3.6,3.1]
];

const cdrBaseTesting = [
  [0.12,0.08,0.14,0.21,0.27,0.23,0.16,0.10,0.15,0.22, 0.27,0.2972,0.24,0.17,0.11,0.08,0.13,0.20,0.26,0.22, 0.15,0.09,0.13,0.21,0.27,0.24,0.17,0.11,0.07,0.12, 0.19,0.25,0.21,0.14,0.09,0.065,0.0544,0.09,0.15,0.22, 0.27,0.22,0.15,0.10,0.14,0.21,0.27,0.23,0.16,0.10, 0.08,0.13,0.20,0.26,0.28,0.21,0.14,0.09,0.14,0.22, 0.27,0.21,0.14,0.07,0.06,0.11,0.18,0.25,0.22,0.15, 0.10,0.16,0.23,0.27,0.20,0.13,0.09,0.18,0.26,0.297],
  [0.15,0.22,0.28,0.24,0.17,0.11,0.08,0.13,0.21,0.27, 0.23,0.16,0.11,0.16,0.24,0.28,0.22,0.14,0.09,0.14, 0.21,0.27,0.29,0.22,0.15,0.10,0.15,0.23,0.27,0.20, 0.13,0.08,0.12,0.19,0.26,0.29,0.23,0.16,0.10,0.14, 0.22,0.28,0.24,0.17,0.11,0.07,0.12,0.20,0.27,0.23, 0.15,0.10,0.16,0.24,0.29,0.22,0.14,0.09,0.13,0.21, 0.27,0.23,0.16,0.10,0.08,0.15,0.22,0.28,0.26,0.18, 0.11,0.16,0.24,0.28,0.21,0.14,0.20,0.26,0.28,0.14],
  [0.21,0.27,0.23,0.15,0.09,0.12,0.19,0.26,0.28,0.21, 0.14,0.09,0.14,0.22,0.27,0.24,0.16,0.10,0.13,0.20, 0.26,0.29,0.22,0.14,0.09,0.12,0.20,0.27,0.24,0.17, 0.11,0.08,0.14,0.22,0.28,0.25,0.17,0.11,0.16,0.24, 0.28,0.21,0.13,0.08,0.12,0.20,0.27,0.23,0.16,0.10, 0.14,0.22,0.28,0.25,0.18,0.11,0.08,0.13,0.21,0.27, 0.24,0.17,0.11,0.15,0.23,0.28,0.22,0.14,0.09,0.12, 0.19,0.26,0.27,0.19,0.13,0.09,0.15,0.22,0.18,0.16],
  [0.25,0.29,0.23,0.15,0.09,0.12,0.20,0.27,0.24,0.16, 0.10,0.08,0.13,0.21,0.27,0.29,0.22,0.14,0.08,0.11, 0.18,0.25,0.28,0.21,0.14,0.07,0.10,0.17,0.24,0.28, 0.22,0.15,0.09,0.13,0.21,0.27,0.25,0.17,0.10,0.14, 0.22,0.28,0.29,0.21,0.14,0.09,0.12,0.20,0.26,0.23, 0.16,0.10,0.14,0.22,0.27,0.21,0.13,0.08,0.12,0.19, 0.25,0.28,0.20,0.13,0.09,0.15,0.22,0.18,0.11,0.07, 0.10,0.16,0.22,0.14,0.08,0.07,0.11,0.08,0.10,0.13],
  [0.18,0.12,0.09,0.15,0.23,0.28,0.25,0.17,0.11,0.15, 0.22,0.28,0.29,0.23,0.16,0.11,0.16,0.24,0.28,0.21, 0.14,0.10,0.16,0.23,0.28,0.26,0.18,0.12,0.16,0.24, 0.29,0.24,0.16,0.11,0.15,0.22,0.27,0.22,0.15,0.11, 0.17,0.24,0.28,0.23,0.16,0.10,0.13,0.20,0.26,0.23, 0.15,0.09,0.14,0.22,0.27,0.20,0.13,0.08,0.06,0.058, 0.07,0.11,0.18,0.25,0.29,0.24,0.17,0.11,0.15,0.22, 0.27,0.22,0.15,0.10,0.14,0.21,0.26,0.19,0.13,0.10],
  [0.10,0.16,0.23,0.28,0.25,0.18,0.11,0.07,0.12,0.19, 0.26,0.28,0.21,0.13,0.08,0.12,0.20,0.27,0.29,0.22, 0.15,0.09,0.13,0.21,0.28,0.24,0.16,0.10,0.07,0.13, 0.20,0.27,0.23,0.15,0.09,0.14,0.22,0.28,0.25,0.17, 0.11,0.07,0.12,0.20,0.27,0.29,0.21,0.13,0.09,0.14, 0.21,0.27,0.24,0.16,0.10,0.15,0.23,0.28,0.20,0.12, 0.08,0.13,0.21,0.27,0.25,0.17,0.11,0.09,0.15,0.23, 0.28,0.21,0.14,0.09,0.12,0.20,0.26,0.19,0.11,0.15],
  [0.20,0.16,0.22,0.27,0.23,0.17,0.13,0.18,0.24,0.26, 0.20,0.15,0.12,0.17,0.23,0.27,0.22,0.16,0.13,0.19, 0.25,0.27,0.21,0.16,0.12,0.18,0.24,0.27,0.22,0.16, 0.13,0.18,0.25,0.27,0.21,0.15,0.12,0.17,0.23,0.27, 0.22,0.16,0.13,0.19,0.25,0.27,0.21,0.15,0.12,0.18, 0.24,0.27,0.22,0.16,0.12,0.17,0.23,0.26,0.20,0.15, 0.11,0.16,0.22,0.27,0.23,0.17,0.13,0.18,0.24,0.21, 0.15,0.12,0.17,0.23,0.26,0.20,0.15,0.18,0.23,0.22]
];

const preIcuPeriod = [
  [14,16,13,10,12,15,18,21,17,14, 11,9,12,15,19,16,13,10,8,11, 14,17,20,22,18,15,12,10,13,16, 19,21,17,14,11,9,12,15,18,16, 13,10,8,11,14,17,20,18,14,11, 9,12,15,19,17,13,10,8,7,9, 12,15,18,16,13,10,8,11,14,17, 20,18,14,11,9,12,15,19,17,18],
  [12,10,13,16,19,20,17,14,11,9, 12,15,18,16,13,10,8,6,8,11, 14,17,19,16,13,11,14,17,20,18, 15,12,10,13,16,19,21,17,14,11, 9,12,15,18,20,16,13,10,12,15, 18,20,17,14,11,9,12,15,19,16, 13,10,12,15,18,21,19,16,13,10, 9,12,15,18,21,17,14,19,16,12],
  [16,13,11,14,17,15,12,10,13,16, 19,17,14,12,15,18,21,19,16,13, 11,10,13,16,19,17,14,12,15,18, 21,18,15,12,10,13,16,20,22,18, 15,12,10,13,16,19,17,14,11,9, 12,15,18,16,13,10,8,11,14,17, 19,16,13,10,12,15,18,20,17,14, 11,13,16,19,17,14,12,15,17,14],
  [22.6,18,15,12,14,17,21,25,20,16, 13,11,14,17,20,16,13,10,12,15, 18,21,17,14,11,9,12,16,19,22, 26.3,21,17,14,11,9,12,15,18,16, 13,11,14,17,20,18,15,12,10,13, 16,19,21,17,14,11,9,12,15,17, 14,11,8,7,9,12,15,18,20,17, 14,12,15,18,20,16,13,15,18,14],
  [11,13,16,18,15,12,14,17,20,16, 13,10,8,6.5,5.6,7,9,12,15,18, 21,18,15,12,10,13,16,19,17,14, 11,9,12,15,18,21,19,16,13,10, 12,15,18,22,19,16,13,11,14,17, 19,16,13,10,12,15,18,16,13,10, 8,11,14,17,15,12,10,7,6.2,8, 11,13,16,14,12,10,13,15,12,11],
  [13,16,19,21,18,15,12,9,7,10, 13,16,19,17,14,11,13,16,19,22, 19,16,13,11,14,17,20,18,15,12, 10,12,15,18,20,17,14,11,9,7.5, 7,6.8,6.4,6.2,6.6,6,6.5,7.2,8.5,11, 14,17,20,22,19,16,13,11,14,17, 20,23,25.5,21,17,14,11,9,7,10, 13,16,14,11,9,11,14,12,10,12],
  [15,13,14,17,15,12,14,16,19,17, 14,12,13,16,18,15,12,10,12,14, 17,15,13,15,18,16,14,12,11,13, 16,19,17,14,12,15,18,16,13,11, 13,16,14,12,15,18,20,17,14,12, 15,18,24.8,19,15,12,10,8,7,6.2, 5.9,5.48,7,9,11,14,17,15,12,10, 13,16,18,15,12,14,17,15,13,12]
];

const homeContactsReduction = [
  [0.39,0.32,0.21,0.11,0.05,0.13,0.26,0.36,0.39,0.29, 0.17,0.08,0.04,0.12,0.24,0.35,0.38,0.27,0.15,0.06, 0.10,0.21,0.33,0.39,0.31,0.19,0.09,0.0038,0.07,0.18, 0.30,0.37,0.34,0.23,0.12,0.05,0.14,0.27,0.37,0.33, 0.21,0.10,0.04,0.11,0.23,0.34,0.39,0.30,0.18,0.08, 0.05,0.15,0.28,0.37,0.35,0.24,0.13,0.06,0.10,0.22, 0.33,0.39,0.31,0.19,0.09,0.04,0.13,0.25,0.36,0.30, 0.18,0.08,0.14,0.27,0.37,0.31,0.18,0.07,0.15,0.05],
  [0.12,0.05,0.14,0.26,0.36,0.38,0.28,0.16,0.07,0.03, 0.11,0.23,0.34,0.39,0.31,0.19,0.09,0.04,0.13,0.25, 0.36,0.38,0.27,0.15,0.06,0.02,0.10,0.22,0.33,0.39, 0.32,0.20,0.10,0.05,0.14,0.26,0.36,0.37,0.26,0.14, 0.05,0.10,0.21,0.33,0.39,0.30,0.18,0.08,0.03,0.12, 0.24,0.35,0.38,0.28,0.16,0.06,0.09,0.20,0.32,0.38, 0.33,0.21,0.11,0.04,0.12,0.24,0.35,0.39,0.29,0.17, 0.07,0.04,0.13,0.25,0.35,0.38,0.27,0.16,0.31,0.04],
  [0.30,0.37,0.33,0.22,0.11,0.04,0.02,0.11,0.23,0.35, 0.39,0.30,0.18,0.08,0.03,0.12,0.25,0.36,0.37,0.26, 0.14,0.05,0.08,0.19,0.31,0.38,0.34,0.22,0.11,0.04, 0.13,0.26,0.36,0.39,0.29,0.17,0.07,0.03,0.10,0.21, 0.33,0.39,0.32,0.20,0.09,0.03,0.12,0.24,0.35,0.38, 0.28,0.16,0.06,0.02,0.10,0.22,0.34,0.39,0.30,0.18, 0.08,0.03,0.11,0.23,0.34,0.38,0.28,0.16,0.06,0.02, 0.09,0.21,0.33,0.39,0.30,0.18,0.08,0.14,0.26,0.15],
  [0.20,0.31,0.38,0.35,0.24,0.13,0.05,0.09,0.21,0.33, 0.39,0.31,0.19,0.08,0.04,0.14,0.27,0.37,0.36,0.25, 0.13,0.05,0.10,0.22,0.34,0.39,0.31,0.19,0.08,0.04, 0.12,0.25,0.36,0.38,0.27,0.15,0.06,0.10,0.22,0.34, 0.39,0.30,0.17,0.07,0.03,0.11,0.24,0.35,0.38,0.27, 0.15,0.06,0.09,0.21,0.33,0.39,0.32,0.20,0.09,0.03, 0.08,0.19,0.31,0.39,0.34,0.22,0.11,0.03,0.07,0.18, 0.30,0.38,0.33,0.21,0.10,0.04,0.13,0.26,0.22,0.10],
  [0.08,0.17,0.29,0.37,0.35,0.24,0.13,0.06,0.15,0.27, 0.36,0.38,0.28,0.16,0.08,0.12,0.24,0.35,0.37,0.26, 0.14,0.07,0.11,0.23,0.34,0.38,0.29,0.17,0.08,0.05, 0.15,0.27,0.37,0.36,0.25,0.13,0.06,0.12,0.24,0.35, 0.39,0.30,0.18,0.08,0.05,0.14,0.26,0.36,0.37,0.26, 0.15,0.07,0.10,0.22,0.33,0.38,0.31,0.19,0.09,0.05, 0.14,0.26,0.36,0.38,0.28,0.16,0.07,0.11,0.23,0.34, 0.38,0.29,0.17,0.08,0.12,0.24,0.35,0.30,0.19,0.20],
  [0.35,0.27,0.16,0.07,0.04,0.12,0.24,0.35,0.39,0.31, 0.19,0.09,0.05,0.15,0.27,0.37,0.37,0.26,0.14,0.06, 0.10,0.22,0.33,0.39,0.32,0.20,0.09,0.04,0.13,0.25, 0.36,0.38,0.28,0.16,0.07,0.11,0.23,0.34,0.397,0.30, 0.18,0.08,0.03,0.12,0.24,0.35,0.38,0.27,0.15,0.06, 0.09,0.21,0.32,0.39,0.31,0.19,0.09,0.05,0.14,0.26, 0.37,0.38,0.27,0.15,0.06,0.10,0.22,0.34,0.39,0.30, 0.17,0.07,0.01,0.09,0.22,0.35,0.39,0.39,0.36,0.34],
  [0.25,0.32,0.27,0.18,0.12,0.19,0.29,0.35,0.30,0.20, 0.12,0.17,0.27,0.34,0.33,0.24,0.15,0.11,0.19,0.29, 0.35,0.31,0.21,0.13,0.16,0.26,0.34,0.35,0.25,0.16, 0.11,0.18,0.28,0.35,0.31,0.21,0.13,0.17,0.27,0.34, 0.33,0.24,0.15,0.11,0.19,0.29,0.35,0.30,0.20,0.13, 0.16,0.26,0.34,0.35,0.25,0.16,0.11,0.20,0.30,0.35, 0.29,0.19,0.12,0.17,0.27,0.34,0.32,0.22,0.14,0.18, 0.28,0.35,0.31,0.21,0.14,0.19,0.29,0.33,0.26,0.21]
];

const tracedPropHighPrevalence = [
  [0.46,0.40,0.31,0.23,0.21,0.28,0.37,0.45,0.48,0.41, 0.32,0.24,0.22,0.30,0.39,0.47,0.44,0.35,0.26,0.22, 0.29,0.38,0.46,0.49,0.41,0.32,0.24,0.21,0.28,0.37, 0.45,0.48,0.40,0.31,0.23,0.26,0.35,0.44,0.47,0.39, 0.30,0.23,0.21,0.29,0.38,0.46,0.48,0.40,0.31,0.24, 0.22,0.30,0.39,0.47,0.44,0.35,0.26,0.22,0.29,0.38, 0.46,0.48,0.39,0.30,0.23,0.27,0.36,0.45,0.47,0.38, 0.29,0.22,0.26,0.35,0.44,0.48,0.41,0.32,0.24,0.49],
  [0.24,0.31,0.40,0.47,0.45,0.36,0.27,0.22,0.28,0.37, 0.45,0.48,0.40,0.31,0.23,0.25,0.34,0.43,0.48,0.41, 0.32,0.24,0.21,0.29,0.38,0.46,0.47,0.38,0.29,0.22, 0.26,0.35,0.44,0.48,0.40,0.30,0.23,0.21,0.29,0.38, 0.46,0.47,0.38,0.29,0.22,0.27,0.36,0.45,0.48,0.39, 0.30,0.23,0.22,0.31,0.40,0.47,0.44,0.35,0.26,0.21, 0.28,0.37,0.45,0.48,0.40,0.31,0.23,0.27,0.36,0.45, 0.47,0.39,0.30,0.22,0.26,0.35,0.44,0.36,0.28,0.23],
  [0.36,0.44,0.48,0.42,0.33,0.25,0.22,0.29,0.38,0.46, 0.49,0.41,0.32,0.24,0.22,0.30,0.39,0.47,0.45,0.36, 0.27,0.21,0.26,0.35,0.44,0.48,0.41,0.32,0.24,0.22, 0.30,0.39,0.47,0.46,0.37,0.28,0.22,0.25,0.34,0.43, 0.48,0.42,0.33,0.25,0.21,0.28,0.37,0.46,0.49,0.40, 0.31,0.23,0.24,0.33,0.42,0.48,0.43,0.34,0.26,0.21, 0.27,0.36,0.45,0.48,0.40,0.31,0.23,0.26,0.35,0.44, 0.48,0.41,0.32,0.25,0.29,0.38,0.46,0.40,0.36,0.43],
  [0.44,0.48,0.43,0.34,0.26,0.22,0.29,0.38,0.46,0.47, 0.39,0.30,0.23,0.21,0.28,0.37,0.45,0.4973,0.42,0.33, 0.25,0.22,0.29,0.38,0.46,0.48,0.40,0.31,0.24,0.21, 0.28,0.37,0.45,0.48,0.40,0.31,0.23,0.26,0.35,0.44, 0.48,0.41,0.32,0.24,0.22,0.30,0.39,0.47,0.46,0.37, 0.28,0.22,0.24,0.33,0.42,0.48,0.43,0.34,0.26,0.22, 0.29,0.38,0.46,0.48,0.40,0.31,0.24,0.23,0.32,0.41, 0.47,0.44,0.35,0.27,0.23,0.30,0.39,0.46,0.42,0.37],
  [0.21,0.27,0.36,0.44,0.48,0.42,0.33,0.25,0.22,0.30, 0.39,0.47,0.46,0.37,0.28,0.22,0.25,0.34,0.43,0.48, 0.41,0.32,0.24,0.21,0.28,0.37,0.45,0.48,0.40,0.31, 0.23,0.26,0.35,0.44,0.48,0.41,0.32,0.24,0.22,0.30, 0.39,0.47,0.45,0.36,0.27,0.22,0.27,0.36,0.45,0.47, 0.39,0.30,0.23,0.22,0.30,0.39,0.47,0.45,0.36,0.27, 0.22,0.26,0.35,0.44,0.48,0.40,0.31,0.24,0.28,0.37, 0.45,0.47,0.38,0.29,0.23,0.27,0.36,0.44,0.33,0.22],
  [0.47,0.42,0.33,0.25,0.21,0.27,0.36,0.44,0.48,0.41, 0.32,0.24,0.22,0.30,0.39,0.47,0.45,0.36,0.27,0.21, 0.26,0.35,0.44,0.49,0.42,0.33,0.25,0.22,0.29,0.38, 0.46,0.47,0.39,0.30,0.23,0.25,0.34,0.43,0.48,0.41, 0.32,0.24,0.21,0.28,0.37,0.45,0.48,0.40,0.31,0.23, 0.22,0.30,0.39,0.47,0.45,0.36,0.27,0.21,0.26,0.35, 0.44,0.48,0.41,0.32,0.24,0.22,0.30,0.39,0.47,0.44, 0.35,0.26,0.21,0.27,0.36,0.44,0.47,0.38,0.29,0.2041],
  [0.30,0.37,0.44,0.41,0.33,0.26,0.30,0.38,0.45,0.42, 0.34,0.27,0.29,0.37,0.44,0.43,0.35,0.28,0.31,0.39, 0.46,0.41,0.33,0.26,0.30,0.38,0.45,0.42,0.34,0.27, 0.29,0.37,0.44,0.43,0.35,0.28,0.31,0.39,0.46,0.41, 0.33,0.26,0.30,0.38,0.45,0.42,0.34,0.27,0.30,0.38, 0.45,0.43,0.35,0.28,0.31,0.39,0.46,0.41,0.33,0.26, 0.29,0.37,0.44,0.42,0.34,0.27,0.31,0.39,0.45,0.41, 0.33,0.26,0.30,0.38,0.45,0.40,0.32,0.27,0.34,0.41]
];

const panelSeries = [
  incubationPeriod, durationActive, infectionRiskPerContact, interServiceMixing,
  infectiousSeed, asymptInfectMultiplier, ifr75Plus, hospitalisationAdjuster,
  cdrBaseTesting, preIcuPeriod, homeContactsReduction, tracedPropHighPrevalence
];

// ---- layout ----
const colLeft = [52, 330, 608, 886];
const rowTop = [45, 303, 561];
const panelW = 199, panelH = 192;
const tickColor = "#555555";

const svg = d3.select("#chart");
svg.append("rect").attr("width", 1131).attr("height", 812).attr("fill", "#ffffff");
svg.append("defs").append("clipPath").attr("id", "figClip")
  .append("rect").attr("x", 0).attr("y", 0).attr("width", 1119).attr("height", 812);

panelSeries.forEach((chains, k) => {
  const col = k % 4, row = Math.floor(k / 4);
  const g = svg.append("g").attr("transform", `translate(${colLeft[col]},${rowTop[row]})`);

  // matplotlib-style 5% data margins
  const xMax = d3.max(chains, c => (c.length - 1) * thin);
  const x = d3.scaleLinear().domain([-0.05 * xMax, 1.05 * xMax]).range([0, panelW]);
  const [lo, hi] = d3.extent(chains.flat());
  const pad = (hi - lo) * 0.05;
  const y = d3.scaleLinear().domain([lo - pad, hi + pad]).range([panelH, 0]);

  g.append("rect").attr("width", panelW).attr("height", panelH).attr("fill", "#E5E5E5");

  // grid
  g.selectAll("line.hgrid").data(yTickValues[k]).join("line")
    .attr("class", "hgrid")
    .attr("x1", 0).attr("x2", panelW)
    .attr("y1", d => y(d)).attr("y2", d => y(d))
    .attr("stroke", "#ffffff").attr("stroke-width", 1.1);
  g.selectAll("line.vgrid").data(xTickValues).join("line")
    .attr("class", "vgrid")
    .attr("y1", 0).attr("y2", panelH)
    .attr("x1", d => x(d)).attr("x2", d => x(d))
    .attr("stroke", "#ffffff").attr("stroke-width", 1.1);

  // traces
  const line = d3.line().x((v, i) => x(i * thin)).y(v => y(v));
  const clipId = `clip${k}`;
  g.append("clipPath").attr("id", clipId)
    .append("rect").attr("width", panelW).attr("height", panelH);
  const traces = g.append("g").attr("clip-path", `url(#${clipId})`);
  chains.forEach((c, ci) => {
    traces.append("path")
      .datum(c)
      .attr("d", line)
      .attr("fill", "none")
      .attr("stroke", chainColors[ci])
      .attr("stroke-width", 1.1)
      .attr("stroke-opacity", 0.9)
      .attr("stroke-linejoin", "round");
  });

  // y axis
  const labels = yTickLabels[k];
  const yAxis = d3.axisLeft(y)
    .tickValues(yTickValues[k])
    .tickFormat((d, i) => labels[i])
    .tickSize(6).tickPadding(11);
  const ya = g.append("g").attr("transform", "translate(-2,0)").call(yAxis);
  ya.select(".domain").remove();
  ya.selectAll("line").attr("stroke", tickColor).attr("stroke-width", 1.3);
  ya.selectAll("text").attr("fill", tickColor).attr("font-size", "14px")
    .attr("font-family", "DejaVu Sans");

  // x axis (labels only on bottom row)
  const bottom = row === 2;
  const xAxis = d3.axisBottom(x)
    .tickValues(xTickValues)
    .tickFormat((d, i) => bottom ? xTickLabels[i] : "")
    .tickSize(6).tickPadding(11);
  const xa = g.append("g").attr("transform", `translate(0,${panelH + 3})`).call(xAxis);
  xa.select(".domain").remove();
  xa.selectAll("line").attr("stroke", tickColor).attr("stroke-width", 1.3);
  xa.selectAll("text").attr("fill", tickColor).attr("font-size", "14px")
    .attr("font-family", "DejaVu Sans");

  if (bottom) {
    g.append("text")
      .attr("x", panelW / 2).attr("y", panelH + 54)
      .attr("text-anchor", "middle")
      .attr("fill", tickColor)
      .attr("font-size", "14.5px")
      .text(xLabel);
  }
});

// titles
const titleLayer = svg.append("g").attr("clip-path", "url(#figClip)");
panelTitles.forEach((t, k) => {
  const col = k % 4, row = Math.floor(k / 4);
  titleLayer.append("text")
    .attr("x", colLeft[col] + panelW / 2)
    .attr("y", rowTop[row] - 16)
    .attr("text-anchor", "middle")
    .attr("fill", "#000000")
    .attr("font-size", "19.6px")
    .text(t);
});
</script>
</body>
</html>
